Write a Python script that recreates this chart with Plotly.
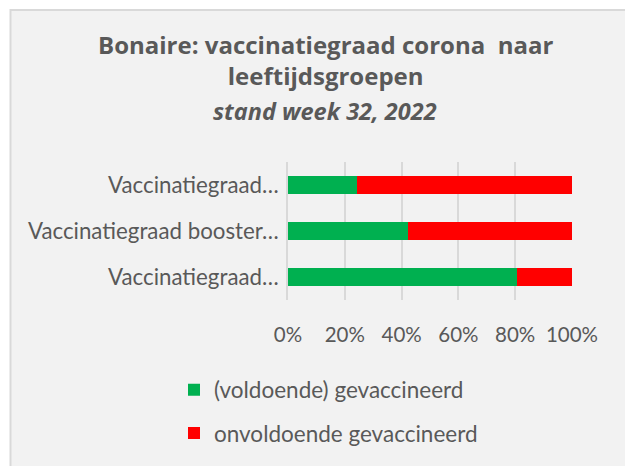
import plotly.graph_objects as go

# Data (bottom-to-top order, as Excel draws horizontal bars)
categories = ["Vaccinatiegraad…", "Vaccinatiegraad booster…", "Vaccinatiegraad…"]
gevaccineerd = [80.5, 42.4, 24.2]
onvoldoende = [19.5, 57.6, 75.8]
series_names = ["(voldoende) gevaccineerd", "onvoldoende gevaccineerd"]
tick_vals = [0, 20, 40, 60, 80, 100]
tick_text = ["0%", "20%", "40%", "60%", "80%", "100%"]
title_lines = ["Bonaire: vaccinatiegraad corona  naar", "leeftijdsgroepen", "stand week 32, 2022"]

W, H = 625, 466
L, R, T, B = 288, 53, 162, 161
pw, ph = W - L - R, H - T - B

def px_x(x):
    return (x - L) / pw

def px_y(y):
    return (H - B - y) / ph

FONT = "Lato"
TFONT = "Open Sans"
TXT = "#595959"
BG = "#F2F2F2"

ypos = list(range(len(categories)))

fig = go.Figure()
fig.add_trace(go.Bar(y=ypos, x=gevaccineerd, orientation="h", name=series_names[0],
                     marker=dict(color="#00B050", line=dict(width=0)), width=0.4,
                     legendgroup="a"))
fig.add_trace(go.Bar(y=ypos, x=onvoldoende, orientation="h", name=series_names[1],
                     marker=dict(color="#FF0000", line=dict(width=0)), width=0.4,
                     legendgroup="b"))

shapes = [dict(type="rect", xref="paper", yref="paper", layer="below",
               x0=px_x(10.5), x1=px_x(640), y0=px_y(480), y1=px_y(4.5),
               fillcolor=BG, line=dict(color="#D9D9D9", width=2))]

annotations = [
    dict(text="<b>" + title_lines[0] + "<br>" + title_lines[1] + "</b>",
         x=px_x(325), y=px_y(56), font=dict(family=TFONT, size=24, color=TXT)),
    dict(text="<b><i>" + title_lines[2] + "</i></b>", x=px_x(325), y=px_y(109),
         font=dict(family=TFONT, size=23.5, color=TXT)),
]
for a in annotations:
    a.update(xref="paper", yref="paper", showarrow=False, xanchor="center", yanchor="middle")

fig.update_layout(
    width=W, height=H,
    margin=dict(l=L, r=R, t=T, b=B, pad=0),
    paper_bgcolor="white", plot_bgcolor=BG,
    barmode="stack",
    showlegend=True,
    legend=dict(orientation="v", x=px_x(174), y=px_y(376), xanchor="left", yanchor="top",
                font=dict(family=FONT, size=22.5, color=TXT), traceorder="grouped",
                tracegroupgap=11, bgcolor="rgba(0,0,0,0)"),
    shapes=shapes,
    annotations=annotations,
    xaxis=dict(range=[0, 100], tickvals=tick_vals, ticktext=tick_text, showgrid=True,
               gridcolor="#D9D9D9", gridwidth=1.5, zeroline=False, showline=False,
               ticks="", ticklabelstandoff=20,
               tickfont=dict(family=FONT, size=20.5, color=TXT)),
    yaxis=dict(range=[-0.5, 2.5], tickvals=ypos, ticktext=categories, showgrid=False,
               zeroline=False, showline=True, linecolor="#D9D9D9", linewidth=1.5,
               ticks="", ticklabelstandoff=3,
               tickfont=dict(family=FONT, size=22.3, color=TXT)),
)

fig.write_html("out.html", config={"displayModeBar": False},
               post_script="document.body.style.margin='0';")
